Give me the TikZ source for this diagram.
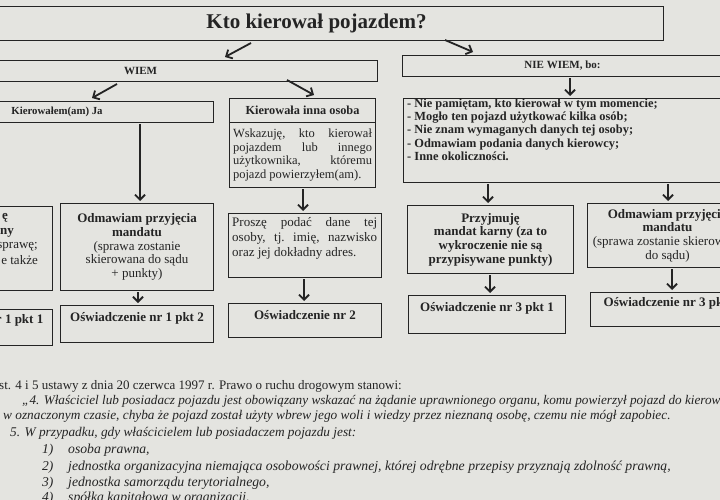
\documentclass[tikz,border=0pt]{standalone}
\usepackage{fontspec}
\setmainfont{Liberation Serif}
\usetikzlibrary{arrows.meta}
\definecolor{paper}{RGB}{228,228,224}
\definecolor{ink}{RGB}{36,36,36}
\newcommand{\fs}[2]{\fontsize{#1}{#2}\selectfont}
\newcommand{\jline}[2]{\hbox to #1{#2}}
\begin{document}
\begin{tikzpicture}[x=1pt,y=-1pt,
  box/.style={draw=ink, line width=1pt, anchor=north west, inner sep=2pt, align=center, text=ink},
  txt/.style={text=ink, inner sep=0pt},
  arr/.style={draw=ink, line width=1.8pt, -{Straight Barb[length=5pt,width=10pt]}, shorten >=2pt, shorten <=1pt},
  darr/.style={draw=ink, line width=1.8pt, -{Straight Barb[length=5pt,width=10pt]}}]
\useasboundingbox (0,0) rectangle (720,500);
\fill[paper] (0,0) rectangle (720,500);
\begin{scope}
\clip (0,0) rectangle (720,500);
% title
\node[box, minimum width=694pt, minimum height=34pt, font=\fs{21}{24}\bfseries] (title) at (-31,6) {Kto kierował pojazdem?};
% level 1
\node[box, minimum width=474pt, minimum height=21pt, font=\fs{11}{12}\bfseries] (wiem) at (-97,60) {WIEM};
\node[box, minimum width=320pt, minimum height=21pt, font=\fs{11}{12}\bfseries] (niewiem) at (402,55) {NIE WIEM, bo:};
\coordinate (t1s) at (251,43); \coordinate (t1e) at (225,57);
\coordinate (t2s) at (445,40); \coordinate (t2e) at (473,52);
\draw[darr] (t1s) -- (t1e);
\draw[darr] (t2s) -- (t2e);
% level 2
\node[box, minimum width=313pt, minimum height=21pt, font=\fs{10.8}{12}\bfseries] (ja) at (-100,101) {Kierowałem(am) Ja};
\node[box, minimum width=146pt, minimum height=24pt, font=\fs{12.3}{13}\bfseries] (innaH) at (229,98) {Kierowała inna osoba};
\node[box, minimum width=146pt, minimum height=65pt, align=left, font=\fs{12.5}{13.6}\selectfont] (innaB) at (229,122)
  {\jline{139pt}{Wskazuję,\hfill kto\hfill kierował}\\
   \jline{139pt}{pojazdem\hfill lub\hfill innego}\\
   \jline{139pt}{użytkownika,\hfill któremu}\\
   pojazd powierzyłem(am).};
\coordinate (w1s) at (117,84); \coordinate (w1e) at (92,98);
\coordinate (w2s) at (287,80); \coordinate (w2e) at (314,95);
\draw[darr] (w1s) -- (w1e);
\draw[darr] (w2s) -- (w2e);
\node[box, minimum width=325pt, minimum height=84pt] (list) at (403,98) {};
\node[txt, anchor=north west, align=left, font=\fs{12.4}{13.3}\bfseries] (listt) at (407,98.5)
  {- Nie pamiętam, kto kierował w tym momencie;\\
   - Mogło ten pojazd użytkować kilka osób;\\
   - Nie znam wymaganych danych tej osoby;\\
   - Odmawiam podania danych kierowcy;\\
   - Inne okoliczności.};
\draw[arr] (570,0 |- niewiem.south) -- (570,0 |- list.north);
% level 3
\node[box, minimum width=152pt, minimum height=84pt] (lp) at (-100,206) {};
\node[txt, anchor=east, font=\fs{13}{14}\bfseries] (lp1) at (8,218) {ę};
\node[txt, anchor=east, font=\fs{13}{14}\bfseries] (lp2) at (14,233) {ny};
\node[txt, anchor=east, font=\fs{13}{14}\selectfont] (lp3) at (38,247) {sprawę;};
\node[txt, anchor=east, font=\fs{13}{14}\selectfont] (lp4) at (38,261) {je także};
\node[box, minimum width=153pt, minimum height=87pt, font=\fs{13}{13.6}\selectfont] (odm1) at (60,203)
  {\textbf{Odmawiam przyjęcia}\\\textbf{mandatu}\\(sprawa zostanie\\skierowana do sądu\\+ punkty)};
\node[box, minimum width=153pt, minimum height=64pt] (prosze) at (228,213) {};
\node[txt, anchor=north west, align=left, font=\fs{13}{15.2}\selectfont] (proszet) at (232,217)
  {\jline{145pt}{Proszę\hfill podać\hfill dane\hfill tej}\\
   \jline{145pt}{osoby,\hfill tj.\hfill imię,\hfill nazwisko}\\
   oraz jej dokładny adres.};
\node[box, minimum width=166pt, minimum height=68pt, font=\fs{13}{13.7}\bfseries] (przyj) at (407,205)
  {Przyjmuję\\mandat karny (za to\\wykroczenie nie są\\przypisywane punkty)};
\node[box, minimum width=160pt, minimum height=64pt, font=\fs{13}{13.7}\selectfont] (odm3) at (587,203)
  {\textbf{Odmawiam przyjęcia}\\\textbf{mandatu}\\(sprawa zostanie skierowana\\do sądu)};
\draw[arr] (140,0 |- ja.south) -- (140,0 |- odm1.north);
\draw[arr] (303,0 |- innaB.south) -- (303,0 |- prosze.north);
\draw[arr] (488,0 |- list.south) -- (488,0 |- przyj.north);
\draw[arr] (668,0 |- list.south) -- (668,0 |- odm3.north);
% level 4
\node[box, minimum width=152pt, minimum height=36pt] (o11) at (-100,309) {};
\node[txt, font=\fs{13}{14}\bfseries] (o11t) at ([yshift=-11pt]o11.north) {Oświadczenie nr 1 pkt 1};
\node[box, minimum width=153pt, minimum height=37pt] (o12) at (60,305) {};
\node[txt, font=\fs{13}{14}\bfseries] (o12t) at ([yshift=-13pt]o12.north) {Oświadczenie nr 1 pkt 2};
\node[box, minimum width=153pt, minimum height=34pt] (o2) at (228,303) {};
\node[txt, font=\fs{13}{14}\bfseries] (o2t) at ([yshift=-12pt]o2.north) {Oświadczenie nr 2};
\node[box, minimum width=157pt, minimum height=38pt] (o31) at (408,295) {};
\node[txt, font=\fs{13}{14}\bfseries] (o31t) at ([yshift=-13pt]o31.north) {Oświadczenie nr 3 pkt 1};
\node[box, minimum width=160pt, minimum height=34pt] (o32) at (590,292) {};
\node[txt, font=\fs{13}{14}\bfseries] (o32t) at ([yshift=-11pt]o32.north) {Oświadczenie nr 3 pkt 2};
\draw[arr] (138,0 |- odm1.south) -- (138,0 |- o12.north);
\draw[arr] (304,0 |- prosze.south) -- (304,0 |- o2.north);
\draw[arr] (490,0 |- przyj.south) -- (490,0 |- o31.north);
\draw[arr] (672,0 |- odm3.south) -- (672,0 |- o32.north);
% legal text
\node[txt, anchor=west, font=\fs{13}{14}\selectfont] (b1) at (-1,386) {st. 4 i 5 ustawy z dnia 20 czerwca 1997 r. Prawo o ruchu drogowym stanowi:};
\node[txt, anchor=west, font=\fs{13.2}{14}\itshape] (b2) at (22,401) {„4. Właściciel lub posiadacz pojazdu jest obowiązany wskazać na żądanie uprawnionego organu, komu powierzył pojazd do kierowania};
\node[txt, anchor=west, font=\fs{13.3}{14}\itshape] (b3) at (3,416) {w oznaczonym czasie, chyba że pojazd został użyty wbrew jego woli i wiedzy przez nieznaną osobę, czemu nie mógł zapobiec.};
\node[txt, anchor=west, font=\fs{13.3}{14}\itshape] (b4) at (10,433) {5. W przypadku, gdy właścicielem lub posiadaczem pojazdu jest:};
\node[txt, anchor=west, font=\fs{13.5}{14}\itshape] (n1) at (42,450) {1)};
\node[txt, anchor=west, font=\fs{13.5}{14}\itshape] (n2) at (42,467) {2)};
\node[txt, anchor=west, font=\fs{13.5}{14}\itshape] (n3) at (42,483) {3)};
\node[txt, anchor=west, font=\fs{13.5}{14}\itshape] (n4) at (42,498) {4)};
\node[txt, anchor=west, font=\fs{13.7}{14}\itshape] (i1) at (68,450) {osoba prawna,};
\node[txt, anchor=west, font=\fs{13.7}{14}\itshape] (i2) at (68,467) {jednostka organizacyjna niemająca osobowości prawnej, której odrębne przepisy przyznają zdolność prawną,};
\node[txt, anchor=west, font=\fs{13.7}{14}\itshape] (i3) at (68,483) {jednostka samorządu terytorialnego,};
\node[txt, anchor=west, font=\fs{13.7}{14}\itshape] (i4) at (68,498) {spółka kapitałowa w organizacji,};
\end{scope}
\end{tikzpicture}
\end{document}
